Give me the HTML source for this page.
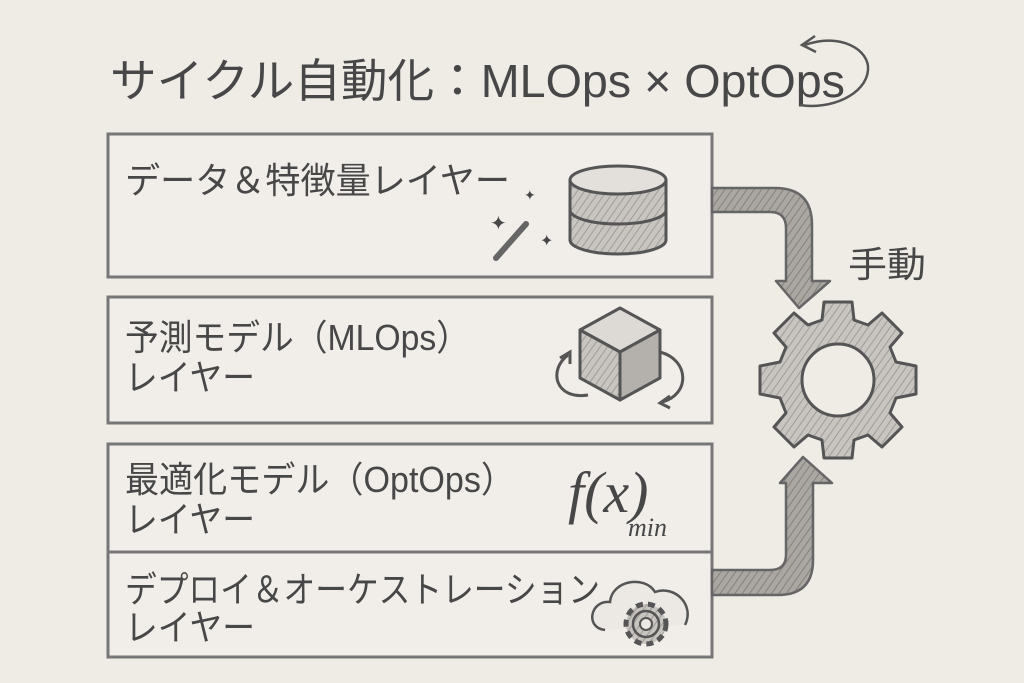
<!DOCTYPE html>
<html><head><meta charset="utf-8"><style>
html,body{margin:0;padding:0;background:#efebe5;}
svg{display:block}
text{font-family:"Liberation Sans","Noto Sans CJK JP",sans-serif;fill:#474747}
</style></head><body>
<svg width="1024" height="683" viewBox="0 0 1024 683" xmlns="http://www.w3.org/2000/svg">
<defs>
<pattern id="h" width="6" height="6" patternUnits="userSpaceOnUse" patternTransform="rotate(35)">
<rect width="6" height="6" fill="#c8c4bf"/><line x1="0" y1="0" x2="0" y2="6" stroke="#9f9b96" stroke-width="2"/></pattern>
<pattern id="d" width="6" height="6" patternUnits="userSpaceOnUse" patternTransform="rotate(35)">
<rect width="6" height="6" fill="#aaa6a1"/><line x1="0" y1="0" x2="0" y2="6" stroke="#858179" stroke-width="2"/></pattern>
</defs>
<rect width="1024" height="683" fill="#efebe5"/>
<text x="110" y="97" font-size="46" textLength="735" lengthAdjust="spacingAndGlyphs">サイクル自動化：MLOps × OptOps</text>
<path d="M805 45 C840 32 870 50 868 70 C866 95 830 110 800 105" fill="none" stroke="#555" stroke-width="2.5"/>
<path d="M815 36 L802 45 L816 52" fill="none" stroke="#555" stroke-width="2.5"/>
<g fill="#f1eee9" stroke="#777" stroke-width="3">
<rect x="108" y="134" width="604" height="143"/>
<rect x="108" y="297" width="604" height="126"/>
<rect x="108" y="444" width="604" height="108"/>
<rect x="108" y="552" width="604" height="105"/>
</g>
<g font-size="36">
<text x="125" y="193" textLength="385" lengthAdjust="spacingAndGlyphs">データ＆特徴量レイヤー</text>
<text x="125" y="350" textLength="345" lengthAdjust="spacingAndGlyphs">予測モデル（MLOps）</text>
<text x="125" y="390" textLength="130" lengthAdjust="spacingAndGlyphs">レイヤー</text>
<text x="125" y="492" textLength="390" lengthAdjust="spacingAndGlyphs">最適化モデル（OptOps）</text>
<text x="125" y="532" textLength="130" lengthAdjust="spacingAndGlyphs">レイヤー</text>
<text x="125" y="602" textLength="475" lengthAdjust="spacingAndGlyphs">デプロイ＆オーケストレーション</text>
<text x="125" y="640" textLength="130" lengthAdjust="spacingAndGlyphs">レイヤー</text>
</g>
<line x1="496" y1="258" x2="526" y2="224" stroke="#666" stroke-width="6" stroke-linecap="round"/>
<text x="490" y="230" font-size="20">✦</text><text x="524" y="200" font-size="14">✦</text><text x="540" y="246" font-size="16">✦</text>
<g stroke="#555" stroke-width="3" fill="url(#h)">
<path d="M570 180 v60 a48 14 0 0 0 96 0 v-60"/>
<path d="M570 210 a48 14 0 0 0 96 0" fill="none"/>
<ellipse cx="618" cy="180" rx="48" ry="14" fill="#e3e0db"/>
</g>
<g stroke="#555" stroke-width="3" stroke-linejoin="round">
<path d="M580 330 L620 308 L660 330 L620 352 Z" fill="#ddd9d4"/>
<path d="M580 330 L620 352 L620 400 L580 378 Z" fill="url(#h)"/>
<path d="M620 352 L660 330 L660 378 L620 400 Z" fill="#b4b0ab"/>
</g>
<g fill="none" stroke="#555" stroke-width="3">
<path d="M568 355 C548 370 555 400 588 395"/><path d="M560 358 L570 352 L570 364"/>
<path d="M660 352 C690 360 690 395 662 402"/><path d="M670 396 L660 403 L670 408"/>
</g>
<text x="568" y="512" font-size="58" font-style="italic" style="font-family:'Liberation Serif',serif">f(x)</text>
<text x="628" y="536" font-size="26" font-style="italic" style="font-family:'Liberation Serif',serif">min</text>
<path d="M605 630 C585 628 590 600 610 602 C612 580 645 575 655 592 C675 585 695 605 685 625" fill="#ece9e4" stroke="#555" stroke-width="2.5"/>
<circle cx="646" cy="624" r="20" fill="url(#h)" stroke="#555" stroke-width="5" stroke-dasharray="7 5"/>
<circle cx="646" cy="624" r="13" fill="url(#h)" stroke="#555" stroke-width="2.5"/>
<circle cx="646" cy="624" r="6" fill="#ece9e4" stroke="#555" stroke-width="2"/>
<g fill="url(#d)" stroke="#666" stroke-width="2.5" stroke-linejoin="round">
<path d="M712 188 L775 188 Q812 188 812 225 L812 281 L830 281 L799 308 L776 281 L786 281 L786 228 Q786 212 770 212 L712 212 Z"/>
<path d="M712 570 L770 570 Q786 570 786 555 L786 483 L780 483 L803 457 L832 483 L813 483 L813 560 Q813 595 778 595 L712 595 Z"/>
</g>
<text x="848" y="277" font-size="36" textLength="78" lengthAdjust="spacingAndGlyphs">手動</text>
<g transform="translate(838 380)">
<path fill="url(#h)" stroke="#555" stroke-width="3" stroke-linejoin="round" d="
M-14 -78 L14 -78 L16 -60 L30 -55 L44 -67 L64 -47 L52 -33 L58 -18 L78 -14 L78 14 L58 18 L52 33 L64 47 L44 67 L30 55 L16 60 L14 78 L-14 78 L-16 60 L-30 55 L-44 67 L-64 47 L-52 33 L-58 18 L-78 14 L-78 -14 L-58 -18 L-52 -33 L-64 -47 L-44 -67 L-30 -55 L-16 -60 Z"/>
<circle r="36" fill="#efebe5" stroke="#555" stroke-width="3"/>
</g>
</svg>
</body></html>
